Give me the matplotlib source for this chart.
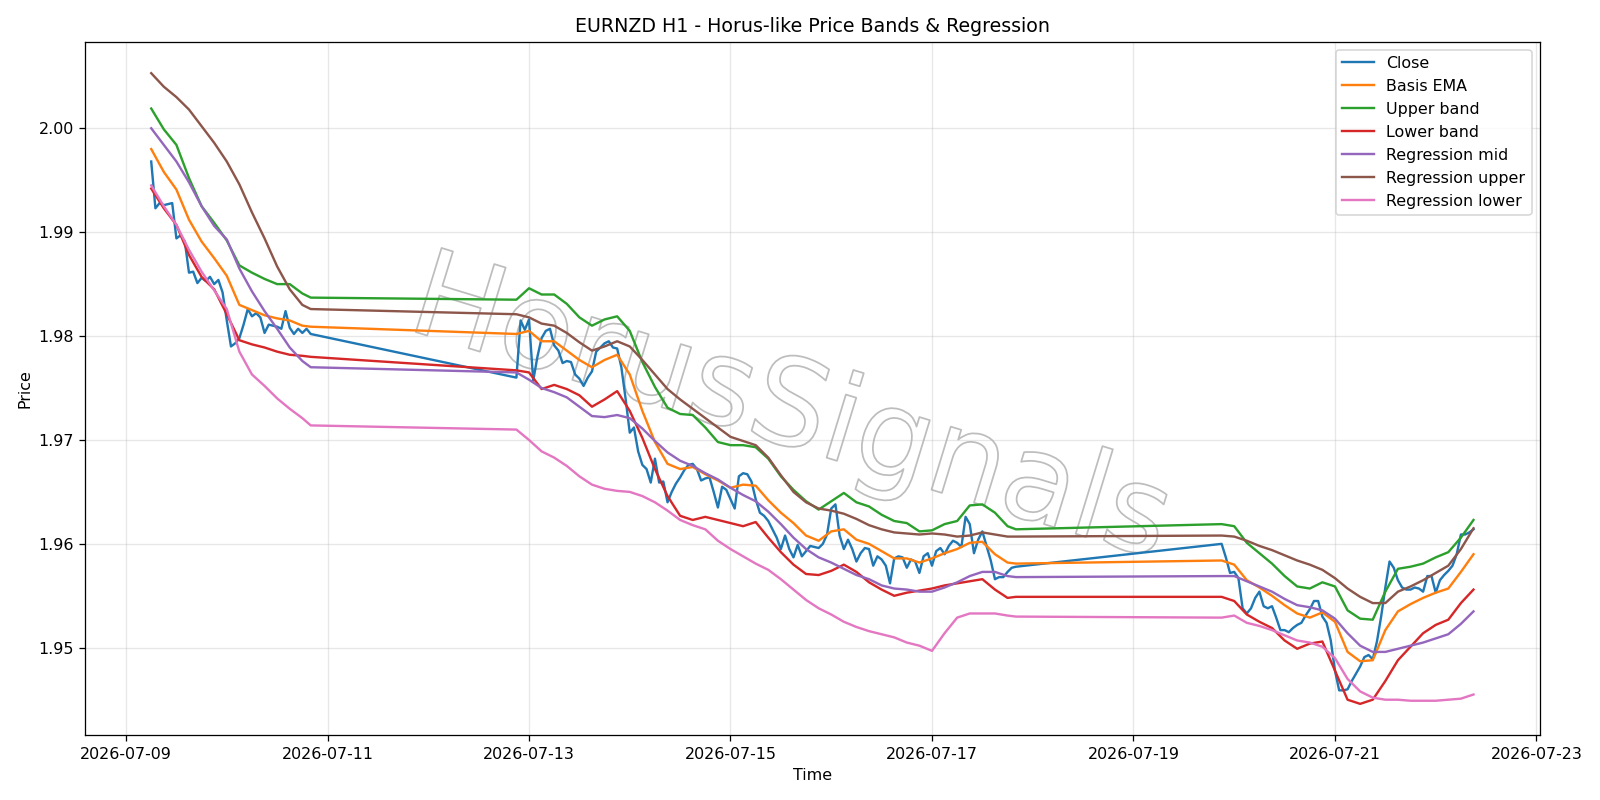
#!/usr/bin/env python3
"""EURNZD H1 close with Horus-like price bands and a regression channel.

Values were read off hourly bars; the smooth band/regression series were
read every third bar (plus the last bar of each session).
"""
import pandas as pd
import matplotlib
matplotlib.use("Agg")
import matplotlib.pyplot as plt
import matplotlib.dates as mdates
import matplotlib.patheffects as pe

# trading sessions, weekend gaps in between: first bar, number of hourly bars
SESSION_STARTS = ["2026-07-09 06:00", "2026-07-12 21:00", "2026-07-19 21:00"]
SESSION_BARS = [39, 120, 61]
KNOT_STEP = 3

CLOSE = [
    # session 1
    1.9968, 1.9923, 1.9928, 1.9926, 1.9927, 1.9928, 1.9894, 1.9897, 1.9891, 1.9861,
    1.9862, 1.9851, 1.9856, 1.9853, 1.9857, 1.9850, 1.9854, 1.9842, 1.9815, 1.9790,
    1.9793, 1.9798, 1.9811, 1.9826, 1.9819, 1.9822, 1.9818, 1.9803, 1.9811, 1.9810,
    1.9809, 1.9807, 1.9824, 1.9808, 1.9802, 1.9807, 1.9803, 1.9807, 1.9802,
    # session 2
    1.9760, 1.9815, 1.9806, 1.9816, 1.9757, 1.9780, 1.9798, 1.9805, 1.9807, 1.9791,
    1.9786, 1.9774, 1.9776, 1.9775, 1.9763, 1.9759, 1.9752, 1.9760, 1.9766, 1.9785,
    1.9789, 1.9793, 1.9795, 1.9789, 1.9788, 1.9770, 1.9740, 1.9707, 1.9712, 1.9689,
    1.9676, 1.9672, 1.9659, 1.9682, 1.9659, 1.9660, 1.9640, 1.9650, 1.9658, 1.9664,
    1.9671, 1.9676, 1.9677, 1.9672, 1.9661, 1.9663, 1.9664, 1.9650, 1.9635, 1.9655,
    1.9652, 1.9643, 1.9634, 1.9665, 1.9668, 1.9667, 1.9660, 1.9643, 1.9630, 1.9627,
    1.9622, 1.9614, 1.9606, 1.9595, 1.9608, 1.9595, 1.9587, 1.9599, 1.9588, 1.9593,
    1.9598, 1.9597, 1.9596, 1.9600, 1.9609, 1.9634, 1.9638, 1.9608, 1.9595, 1.9604,
    1.9595, 1.9583, 1.9591, 1.9596, 1.9595, 1.9579, 1.9588, 1.9585, 1.9579, 1.9562,
    1.9586, 1.9588, 1.9587, 1.9577, 1.9585, 1.9583, 1.9572, 1.9588, 1.9591, 1.9579,
    1.9593, 1.9596, 1.9590, 1.9598, 1.9603, 1.9601, 1.9597, 1.9626, 1.9619, 1.9591,
    1.9604, 1.9612, 1.9598, 1.9584, 1.9566, 1.9568, 1.9568, 1.9573, 1.9577, 1.9578,
    # session 3
    1.9600, 1.9587, 1.9572, 1.9573, 1.9567, 1.9538, 1.9533, 1.9538, 1.9548, 1.9554,
    1.9540, 1.9538, 1.9540, 1.9529, 1.9517, 1.9517, 1.9515, 1.9519, 1.9522, 1.9524,
    1.9531, 1.9537, 1.9545, 1.9545, 1.9530, 1.9524, 1.9507, 1.9478, 1.9459, 1.9459,
    1.9460, 1.9468, 1.9475, 1.9482, 1.9491, 1.9493, 1.9489, 1.9506, 1.9530, 1.9558,
    1.9583, 1.9577, 1.9565, 1.9558, 1.9556, 1.9556, 1.9558, 1.9557, 1.9554, 1.9569,
    1.9569, 1.9553, 1.9565, 1.9570, 1.9574, 1.9579, 1.9590, 1.9609, 1.9609, 1.9611,
    1.9614,
]

BASIS_EMA = [
    1.9980, 1.9958, 1.9941, 1.9912, 1.9891, 1.9875, 1.9858, 1.9830, 1.9825, 1.9820,
    1.9817, 1.9815, 1.9810, 1.9809,
    1.9802, 1.9805, 1.9795, 1.9795, 1.9786, 1.9777, 1.9770, 1.9777, 1.9782, 1.9763,
    1.9728, 1.9698, 1.9677, 1.9672, 1.9674, 1.9667, 1.9661, 1.9654, 1.9657, 1.9656,
    1.9642, 1.9630, 1.9620, 1.9608, 1.9603, 1.9612, 1.9614, 1.9604, 1.9600, 1.9593,
    1.9586, 1.9586, 1.9582, 1.9586, 1.9591, 1.9595, 1.9601, 1.9602, 1.9590, 1.9582,
    1.9581,
    1.9584, 1.9580, 1.9565, 1.9558, 1.9550, 1.9541, 1.9533, 1.9529, 1.9534, 1.9525,
    1.9496, 1.9487, 1.9488, 1.9517, 1.9535, 1.9542, 1.9548, 1.9553, 1.9557, 1.9573,
    1.9590,
]

UPPER_BAND = [
    2.0019, 1.9999, 1.9984, 1.9952, 1.9925, 1.9909, 1.9892, 1.9868, 1.9861, 1.9855,
    1.9850, 1.9850, 1.9841, 1.9837,
    1.9835, 1.9846, 1.9840, 1.9840, 1.9831, 1.9818, 1.9810, 1.9816, 1.9819, 1.9805,
    1.9775, 1.9751, 1.9731, 1.9725, 1.9724, 1.9712, 1.9698, 1.9695, 1.9695, 1.9693,
    1.9682, 1.9665, 1.9652, 1.9641, 1.9633, 1.9641, 1.9649, 1.9640, 1.9636, 1.9628,
    1.9622, 1.9620, 1.9612, 1.9613, 1.9619, 1.9622, 1.9637, 1.9638, 1.9630, 1.9617,
    1.9614,
    1.9619, 1.9617, 1.9601, 1.9591, 1.9581, 1.9569, 1.9559, 1.9557, 1.9563, 1.9559,
    1.9536, 1.9528, 1.9527, 1.9554, 1.9576, 1.9578, 1.9581, 1.9587, 1.9592, 1.9606,
    1.9623,
]

LOWER_BAND = [
    1.9942, 1.9923, 1.9907, 1.9878, 1.9857, 1.9845, 1.9821, 1.9796, 1.9792, 1.9789,
    1.9785, 1.9782, 1.9781, 1.9780,
    1.9767, 1.9765, 1.9749, 1.9753, 1.9749, 1.9743, 1.9732, 1.9739, 1.9747, 1.9728,
    1.9702, 1.9672, 1.9646, 1.9627, 1.9623, 1.9626, 1.9623, 1.9620, 1.9617, 1.9621,
    1.9606, 1.9592, 1.9580, 1.9571, 1.9570, 1.9574, 1.9580, 1.9573, 1.9563, 1.9556,
    1.9550, 1.9553, 1.9555, 1.9557, 1.9560, 1.9562, 1.9564, 1.9566, 1.9556, 1.9548,
    1.9549,
    1.9549, 1.9545, 1.9532, 1.9525, 1.9519, 1.9507, 1.9499, 1.9504, 1.9506, 1.9478,
    1.9450, 1.9446, 1.9450, 1.9468, 1.9488, 1.9501, 1.9514, 1.9522, 1.9527, 1.9543,
    1.9556,
]

REG_MID = [
    2.0000, 1.9984, 1.9968, 1.9948, 1.9925, 1.9906, 1.9893, 1.9865, 1.9843, 1.9824,
    1.9807, 1.9789, 1.9776, 1.9770,
    1.9765, 1.9758, 1.9750, 1.9746, 1.9741, 1.9732, 1.9723, 1.9722, 1.9724, 1.9721,
    1.9711, 1.9699, 1.9688, 1.9680, 1.9675, 1.9668, 1.9662, 1.9654, 1.9647, 1.9641,
    1.9631, 1.9619, 1.9606, 1.9595, 1.9587, 1.9582, 1.9576, 1.9570, 1.9566, 1.9560,
    1.9557, 1.9556, 1.9554, 1.9554, 1.9558, 1.9563, 1.9569, 1.9573, 1.9573, 1.9569,
    1.9568,
    1.9569, 1.9569, 1.9564, 1.9559, 1.9554, 1.9547, 1.9541, 1.9539, 1.9536, 1.9528,
    1.9514, 1.9502, 1.9496, 1.9496, 1.9499, 1.9502, 1.9505, 1.9509, 1.9513, 1.9523,
    1.9535,
]

REG_UPPER = [
    2.0053, 2.0040, 2.0030, 2.0018, 2.0002, 1.9986, 1.9968, 1.9946, 1.9919, 1.9894,
    1.9867, 1.9845, 1.9830, 1.9826,
    1.9821, 1.9818, 1.9812, 1.9810, 1.9803, 1.9794, 1.9786, 1.9790, 1.9795, 1.9790,
    1.9777, 1.9763, 1.9749, 1.9739, 1.9730, 1.9721, 1.9712, 1.9703, 1.9699, 1.9695,
    1.9683, 1.9666, 1.9650, 1.9640, 1.9634, 1.9632, 1.9629, 1.9624, 1.9618, 1.9614,
    1.9611, 1.9610, 1.9609, 1.9610, 1.9609, 1.9607, 1.9608, 1.9611, 1.9609, 1.9607,
    1.9607,
    1.9608, 1.9607, 1.9603, 1.9598, 1.9594, 1.9589, 1.9584, 1.9580, 1.9575, 1.9567,
    1.9557, 1.9549, 1.9543, 1.9543, 1.9554, 1.9559, 1.9565, 1.9572, 1.9579, 1.9595,
    1.9615,
]

REG_LOWER = [
    1.9945, 1.9925, 1.9907, 1.9883, 1.9862, 1.9844, 1.9826, 1.9785, 1.9763, 1.9752,
    1.9740, 1.9730, 1.9721, 1.9714,
    1.9710, 1.9700, 1.9689, 1.9683, 1.9675, 1.9665, 1.9657, 1.9653, 1.9651, 1.9650,
    1.9646, 1.9640, 1.9632, 1.9623, 1.9618, 1.9614, 1.9603, 1.9595, 1.9588, 1.9581,
    1.9575, 1.9566, 1.9556, 1.9546, 1.9538, 1.9532, 1.9525, 1.9520, 1.9516, 1.9513,
    1.9510, 1.9505, 1.9502, 1.9497, 1.9514, 1.9529, 1.9533, 1.9533, 1.9533, 1.9531,
    1.9530,
    1.9529, 1.9531, 1.9524, 1.9521, 1.9517, 1.9512, 1.9507, 1.9505, 1.9501, 1.9490,
    1.9470, 1.9458, 1.9452, 1.9450, 1.9450, 1.9449, 1.9449, 1.9449, 1.9450, 1.9451,
    1.9455,
]


def bar_times(step=1):
    """Bar timestamps of all sessions; step>1 keeps every step-th bar plus
    the last bar of each session."""
    out = []
    for start, n in zip(SESSION_STARTS, SESSION_BARS):
        offs = list(range(0, n, step))
        if offs[-1] != n - 1:
            offs.append(n - 1)
        t0 = pd.Timestamp(start)
        out.extend(t0 + pd.Timedelta(hours=h) for h in offs)
    return pd.DatetimeIndex(out)


def main():
    t_close = bar_times()
    t_knot = bar_times(KNOT_STEP)

    fig, ax = plt.subplots(figsize=(14, 7), dpi=1600 / 14)
    ax.plot(t_close, CLOSE, label="Close")
    ax.plot(t_knot, BASIS_EMA, label="Basis EMA")
    ax.plot(t_knot, UPPER_BAND, label="Upper band")
    ax.plot(t_knot, LOWER_BAND, label="Lower band")
    ax.plot(t_knot, REG_MID, label="Regression mid")
    ax.plot(t_knot, REG_UPPER, label="Regression upper")
    ax.plot(t_knot, REG_LOWER, label="Regression lower")

    # hollow watermark behind the lines
    ax.text(0.485, 0.466, "HorusSignals", transform=ax.transAxes,
            ha="center", va="center", rotation=-17, fontsize=76,
            color="none", zorder=1,
            path_effects=[pe.Stroke(linewidth=1.1, foreground="#bdbdbd")])

    ax.xaxis.set_major_locator(mdates.DayLocator(bymonthday=range(1, 32, 2)))
    ax.xaxis.set_major_formatter(mdates.DateFormatter("%Y-%m-%d"))
    ax.set_title("EURNZD H1 - Horus-like Price Bands & Regression")
    ax.set_xlabel("Time")
    ax.set_ylabel("Price")
    ax.grid(True, alpha=0.3)
    ax.legend(loc="upper right")

    fig.tight_layout()
    fig.savefig("out.png")
    plt.close(fig)


if __name__ == "__main__":
    main()
